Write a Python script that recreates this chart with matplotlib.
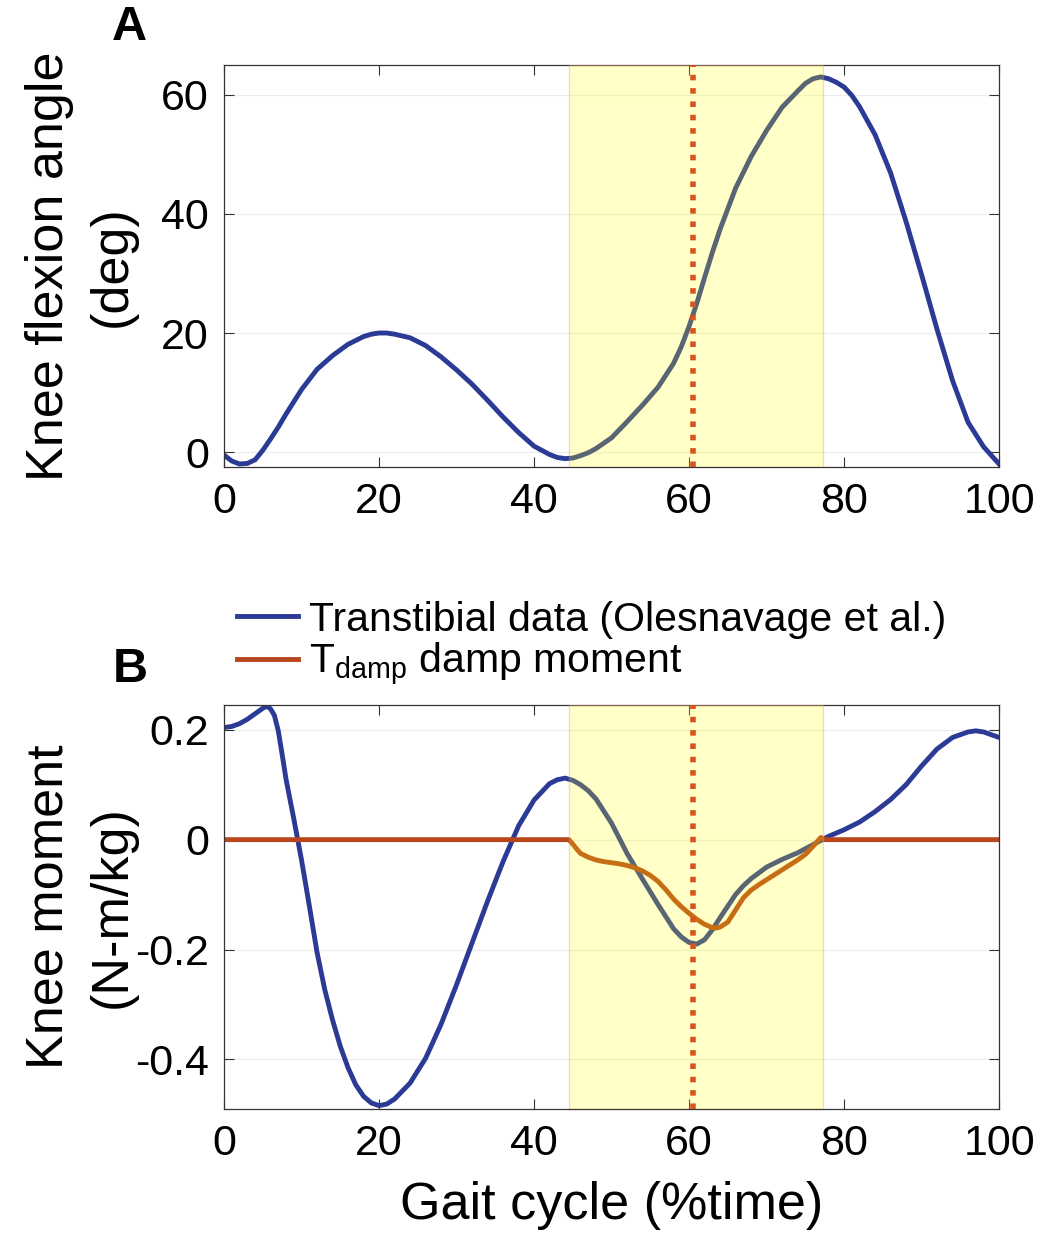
import matplotlib
matplotlib.use("Agg")
import matplotlib.pyplot as plt

plt.rcParams["font.family"] = ["Liberation Sans", "DejaVu Sans"]
plt.rcParams["mathtext.fontset"] = "custom"
plt.rcParams["mathtext.rm"] = "Liberation Sans"

# --- data ---
angle_x = [0, 1, 2, 3, 4, 5, 6, 7, 8, 10, 12, 14, 16, 18, 19, 20, 21, 22, 24,
           26, 28, 30, 32, 34, 36, 38, 40, 42, 43, 44, 45, 46, 47, 48, 50, 52,
           54, 56, 58, 59, 60, 61, 62, 63, 64, 66, 68, 70, 72, 74, 75, 76, 77,
           78, 79, 80, 81, 82, 84, 86, 88, 90, 92, 94, 96, 98, 100]
knee_angle = [-0.5, -1.5, -2.0, -1.9, -1.3, 0.3, 2.2, 4.2, 6.4, 10.5, 13.9,
              16.2, 18.1, 19.4, 19.8, 20.0, 20.0, 19.8, 19.2, 17.9, 16.0, 13.8,
              11.4, 8.7, 5.9, 3.3, 1.0, -0.4, -0.9, -1.1, -1.0, -0.6, -0.1,
              0.6, 2.4, 5.1, 7.9, 10.9, 14.9, 17.7, 21.1, 25.0, 29.3, 33.5,
              37.4, 44.3, 49.6, 54.0, 57.9, 60.6, 61.9, 62.7, 63.0, 62.7, 62.1,
              61.3, 59.9, 58.0, 53.3, 46.9, 38.7, 29.8, 20.6, 12.0, 5.0, 0.9,
              -2.0]

moment_x = [0, 1, 2, 3, 4, 5, 5.5, 6, 6.5, 7, 7.5, 8, 9, 10, 11, 12, 13, 14, 15,
            16, 17, 18, 19, 20, 21, 22, 24, 26, 28, 30, 32, 34, 36, 38, 40, 42,
            43, 44, 45, 46, 47, 48, 50, 52, 54, 56, 58, 59, 60, 61, 62, 63, 64,
            65, 66, 67, 68, 70, 72, 74, 76, 78, 80, 82, 84, 86, 88, 90, 92, 94,
            96, 97, 98, 100]
knee_moment = [0.204, 0.206, 0.211, 0.219, 0.229, 0.239, 0.243, 0.238, 0.226,
               0.198, 0.155, 0.110, 0.038, -0.037, -0.120, -0.205, -0.273,
               -0.328, -0.376, -0.415, -0.446, -0.467, -0.479, -0.484, -0.481,
               -0.472, -0.443, -0.398, -0.336, -0.264, -0.188, -0.112, -0.040,
               0.025, 0.072, 0.102, 0.109, 0.112, 0.108, 0.100, 0.089, 0.074,
               0.030, -0.025, -0.072, -0.118, -0.162, -0.177, -0.187, -0.190,
               -0.182, -0.164, -0.142, -0.121, -0.100, -0.084, -0.071, -0.050,
               -0.036, -0.024, -0.009, 0.006, 0.018, 0.032, 0.051, 0.073,
               0.100, 0.134, 0.165, 0.186, 0.196, 0.198, 0.196, 0.186]

damp_x = [0, 44.5, 45, 45.5, 46, 47, 48, 49, 50, 51, 52, 53, 54, 55, 56, 57,
          58, 59, 60, 61, 62, 63, 63.5, 64, 65, 66, 67, 68, 69, 70, 71, 72, 73,
          74, 75, 76, 76.5, 77, 77.5, 100]
damp_moment = [0, 0, -0.008, -0.017, -0.025, -0.032, -0.037, -0.040, -0.042,
               -0.044, -0.047, -0.051, -0.057, -0.065, -0.076, -0.091, -0.108,
               -0.122, -0.134, -0.145, -0.154, -0.160, -0.161, -0.159, -0.150,
               -0.128, -0.106, -0.092, -0.082, -0.073, -0.064, -0.055, -0.046,
               -0.037, -0.027, -0.012, -0.004, 0.004, 0.0, 0.0]

span_start, span_end = 44.5, 77.3
marker_x = 60.5

BLUE = "#2b3a94"
DAMP = "#b8461c"
RED = "#d9531e"

fig = plt.figure(figsize=(10.42, 12.41), dpi=100)
ax1 = fig.add_axes([0.215, 0.6237, 0.7438, 0.3239])
ax2 = fig.add_axes([0.215, 0.1064, 0.7438, 0.3255])


def style(ax):
    ax.set_xlim(0, 100)
    ax.set_xticks(range(0, 101, 20))
    ax.tick_params(direction="in", top=True, right=True, length=7, width=0.8,
                   color="#333333", labelsize=31, pad=11)
    for s in ax.spines.values():
        s.set_linewidth(0.9)
        s.set_color("#333333")
    ax.grid(axis="y", color="#ececf0", linewidth=0.8)
    ax.set_axisbelow(True)
    # translucent highlight drawn over the curves, dotted marker on top
    ax.axvspan(span_start, span_end, facecolor=(1, 1, 0, 0.22),
               edgecolor=(0.92, 0.55, 0.45, 0.35), linewidth=1, zorder=3)
    ax.axvline(marker_x, color=RED, linewidth=4, linestyle=(0, (1, 1.4)),
               dash_capstyle="butt", zorder=4)


# --- A: knee angle ---
ax1.plot(angle_x, knee_angle, color=BLUE, linewidth=3.5, zorder=2)
style(ax1)
ax1.set_ylim(-2.5, 65)
ax1.set_yticks([0, 20, 40, 60])
ax1.set_ylabel("Knee flexion angle\n(deg)", fontsize=37.5, linespacing=1.35)
ax1.yaxis.label.set_va("center")
ax1.yaxis.set_label_coords(-0.185, 0.5)

# --- B: knee moment ---
ax2.plot(moment_x, knee_moment, color=BLUE, linewidth=3.5, zorder=2,
         label="Transtibial data (Olesnavage et al.)")
ax2.plot(damp_x, damp_moment, color=DAMP, linewidth=3.5, zorder=2,
         label=r"T$_{\mathrm{damp}}$ damp moment")
style(ax2)
ax2.set_ylim(-0.49, 0.245)
ax2.set_yticks([-0.4, -0.2, 0, 0.2])
ax2.set_yticklabels(["-0.4", "-0.2", "0", "0.2"])
ax2.set_ylabel("Knee moment\n(N-m/kg)", fontsize=37.5, linespacing=1.35)
ax2.yaxis.label.set_va("center")
ax2.yaxis.set_label_coords(-0.185, 0.5)
ax2.set_xlabel("Gait cycle (%time)", fontsize=37.5)
ax2.xaxis.label.set_va("center")
ax2.xaxis.set_label_coords(0.5, -0.238)

fig.legend(loc="center left", bbox_to_anchor=(0.2274, 0.481), frameon=False,
           fontsize=29.5, handlelength=1.5, handletextpad=0.25,
           labelspacing=0.05, borderpad=0, borderaxespad=0)

fig.text(129 / 1042, 1 - 27 / 1241, "A", fontsize=35, fontweight="bold",
         ha="center", va="center")
fig.text(130 / 1042, 1 - 669 / 1241, "B", fontsize=35, fontweight="bold",
         ha="center", va="center")

fig.savefig("out.png", dpi=100)
